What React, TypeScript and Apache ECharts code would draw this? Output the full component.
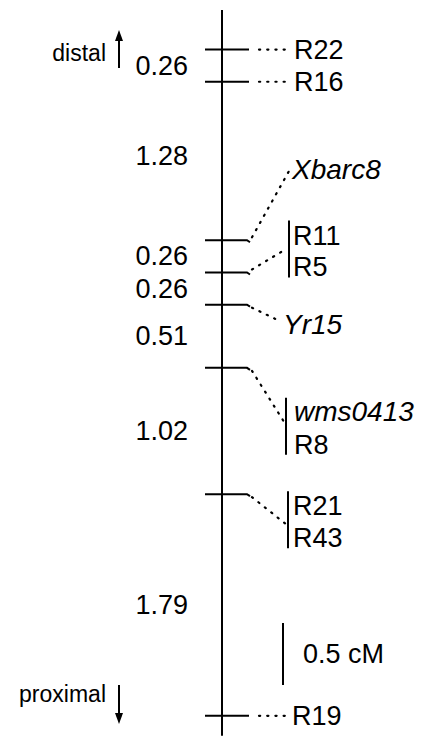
import React, { useEffect, useRef } from "react";
import * as echarts from "echarts";

// ---- data (cM) ----
const intervals = [0.26, 1.28, 0.26, 0.26, 0.51, 1.02, 1.79];
const intervalLabels = ["0.26", "1.28", "0.26", "0.26", "0.51", "1.02", "1.79"];
const markerGroups = [
  ["R22"],
  ["R16"],
  ["Xbarc8"],
  ["R11", "R5"],
  ["Yr15"],
  ["wms0413", "R8"],
  ["R21", "R43"],
  ["R19"],
];
const italicMarkers = ["Xbarc8", "Yr15", "wms0413"];
const chromosomeExtent = [-0.32, 5.54];
const scaleBarStart = 4.63;
const scaleBarLength = 0.5;
const scaleBarLabel = "0.5 cM";
const endLabels = ["distal", "proximal"];

// cumulative locus positions
const lociPositions: number[] = [0];
intervals.forEach((d, i) => lociPositions.push(+(lociPositions[i] + d).toFixed(2)));

// ---- layout (pixels) ----
const AXIS_X = 222;
const NUM_X = 188;
const FONT = '"Liberation Sans", Arial, Helvetica, sans-serif';
type Lay = {
  h?: boolean;
  end?: [number, number];
  bracket?: [number, number];
  labels: number[];
  labelX: number;
};
const layout: Lay[] = [
  { h: true, labels: [0], labelX: 294 },
  { h: true, labels: [0], labelX: 294 },
  { end: [290, -71], labels: [-71], labelX: 292 },
  { end: [287, -24], bracket: [-52, 5], labels: [-36, -5], labelX: 293 },
  { end: [281, 17], labels: [20], labelX: 283 },
  { end: [284, 54], bracket: [30, 87], labels: [44, 77], labelX: 294 },
  { end: [286, 30], bracket: [-3, 54], labels: [12, 44], labelX: 293 },
  { h: true, labels: [0], labelX: 292 },
];

export default function App() {
  const ref = useRef<HTMLDivElement>(null);
  useEffect(() => {
    if (!ref.current) return;
    const chart = echarts.init(ref.current, null, { renderer: "svg" });
    const black = "#000";
    const dotted = { stroke: black, lineWidth: 2.2, lineDash: [1.2, 7], lineCap: "round" };

    const option: any = {
      animation: false,
      grid: { left: 0, right: 0, top: 0, bottom: 0, containLabel: false },
      xAxis: { type: "value", min: 0, max: 421, show: false },
      yAxis: { type: "value", min: -0.4, max: 5.575, inverse: true, show: false },
      series: [
        {
          type: "line",
          data: chromosomeExtent.map((v) => [AXIS_X, v]),
          symbol: "none",
          lineStyle: { color: black, width: 2 },
          silent: true,
        },
        {
          type: "custom",
          data: lociPositions.map((p) => [AXIS_X, p]),
          encode: { x: 0, y: 1 },
          silent: true,
          renderItem: (params: any, api: any) => {
            const i = params.dataIndex;
            const [xc, y] = api.coord([api.value(0), api.value(1)]);
            const lay = layout[i];
            const children: any[] = [];
            const x0 = xc - 17;
            const x1 = xc + 27;
            if (lay.h) {
              children.push({
                type: "line",
                shape: { x1: x0, y1: y, x2: x1, y2: y },
                style: { stroke: black, lineWidth: 2 },
              });
              children.push({
                type: "line",
                shape: { x1: xc + 37, y1: y, x2: lay.labelX - 5, y2: y },
                style: dotted,
              });
            } else {
              children.push({
                type: "polyline",
                shape: { points: [[x0, y], [x1 - 2, y], [x1 + 1, y + 2]] },
                style: { stroke: black, lineWidth: 2, fill: null },
              });
              const [ex, ed] = lay.end!;
              children.push({
                type: "line",
                shape: { x1: x1 + 3, y1: y + (ed < 0 ? -3 : 3), x2: ex, y2: y + ed },
                style: dotted,
              });
              if (lay.bracket) {
                const bx = ex + 2;
                children.push({
                  type: "line",
                  shape: { x1: bx, y1: y + lay.bracket[0], x2: bx, y2: y + lay.bracket[1] },
                  style: { stroke: black, lineWidth: 2 },
                });
              }
            }
            markerGroups[i].forEach((name, k) => {
              const it = italicMarkers.includes(name);
              children.push({
                type: "text",
                style: {
                  text: name,
                  x: lay.labelX,
                  y: y + lay.labels[k],
                  fill: black,
                  font: `${it ? "italic " : ""}${it ? 28 : 27}px ${FONT}`,
                  align: "left",
                  verticalAlign: "middle",
                  textAlign: "left",
                  textVerticalAlign: "middle",
                },
              });
            });
            return { type: "group", children };
          },
        },
        {
          type: "custom",
          data: intervals.map((d, i) => [NUM_X, (lociPositions[i] + lociPositions[i + 1]) / 2]),
          encode: { x: 0, y: 1 },
          silent: true,
          renderItem: (params: any, api: any) => {
            const [x, y] = api.coord([api.value(0), api.value(1)]);
            return {
              type: "text",
              style: {
                text: intervalLabels[params.dataIndex],
                x,
                y: params.dataIndex === 1 ? y - 5 : y,
                fill: black,
                font: `27px ${FONT}`,
                align: "right",
                verticalAlign: "middle",
                textAlign: "right",
                textVerticalAlign: "middle",
              },
            };
          },
        },
        {
          type: "custom",
          data: [[283, scaleBarStart, scaleBarStart + scaleBarLength]],
          encode: { x: 0, y: [1, 2] },
          silent: true,
          renderItem: (params: any, api: any) => {
            const [x, y0] = api.coord([api.value(0), api.value(1)]);
            const [, y1] = api.coord([api.value(0), api.value(2)]);
            return {
              type: "group",
              children: [
                {
                  type: "line",
                  shape: { x1: x, y1: y0, x2: x, y2: y1 },
                  style: { stroke: black, lineWidth: 2 },
                },
                {
                  type: "text",
                  style: {
                    text: scaleBarLabel,
                    x: x + 20,
                    y: (y0 + y1) / 2,
                    fill: black,
                    font: `27px ${FONT}`,
                    align: "left",
                    verticalAlign: "middle",
                    textAlign: "left",
                    textVerticalAlign: "middle",
                  },
                },
              ],
            };
          },
        },
      ],
      graphic: [
        {
          type: "text",
          style: {
            text: endLabels[0], x: 106, y: 53, fill: black, font: `23px ${FONT}`,
            align: "right", verticalAlign: "middle", textAlign: "right", textVerticalAlign: "middle",
          },
        },
        { type: "line", shape: { x1: 119, y1: 68, x2: 119, y2: 38 }, style: { stroke: black, lineWidth: 2 } },
        { type: "polygon", shape: { points: [[119, 30], [115, 41], [123, 41]] }, style: { fill: black } },
        {
          type: "text",
          style: {
            text: endLabels[1], x: 106, y: 694, fill: black, font: `23px ${FONT}`,
            align: "right", verticalAlign: "middle", textAlign: "right", textVerticalAlign: "middle",
          },
        },
        { type: "line", shape: { x1: 119, y1: 685, x2: 119, y2: 715 }, style: { stroke: black, lineWidth: 2 } },
        { type: "polygon", shape: { points: [[119, 724], [115, 713], [123, 713]] }, style: { fill: black } },
      ],
    };
    chart.setOption(option);
    return () => chart.dispose();
  }, []);
  return (
    <div
      ref={ref}
      style={{ position: "fixed", left: 0, top: 0, width: 421, height: 740, background: "#fff" }}
    />
  );
}
